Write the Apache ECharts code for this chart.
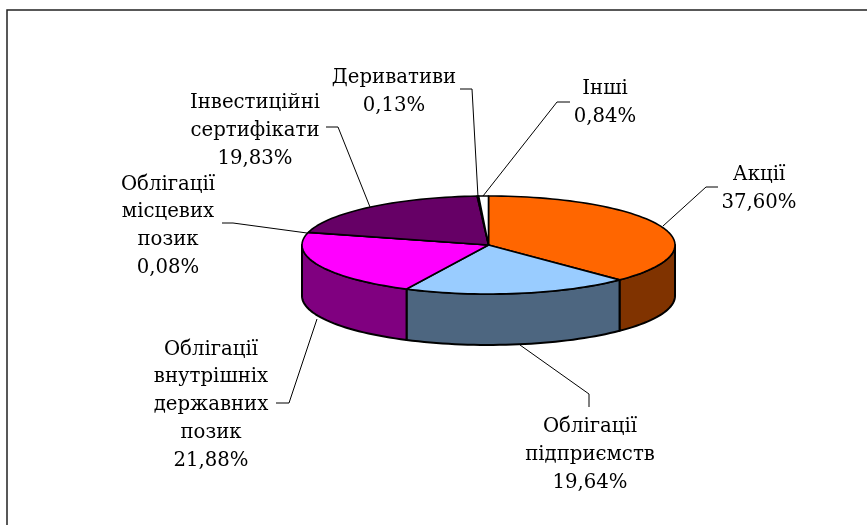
<!DOCTYPE html>
<html>
<head>
<meta charset="utf-8">
<style>
  html, body { margin: 0; padding: 0; background: #fff; }
  #chart { width: 867px; height: 525px; }
</style>
<script src="https://cdn.jsdelivr.net/npm/echarts@6/dist/echarts.min.js"></script>
</head>
<body>
<div id="chart"></div>
<script>
// values, clockwise from 12 o'clock
const names = ['Акції', 'Облігації\nпідприємств', 'Облігації\nвнутрішніх\nдержавних\nпозик', 'Облігації\nмісцевих\nпозик', 'Інвестиційні\nсертифікати', 'Деривативи', 'Інші']
const values = [37.60, 19.64, 21.88, 0.08, 19.83, 0.13, 0.84]
const topColors = ['#ff6600', '#99ccff', '#ff00ff', '#ffffff', '#660066', '#ffffff', '#ffffff']
const sideColors = ['#803300', '#4d6680', '#800080', '#808080', '#330033', '#808080', '#808080']

// label anchors and leader lines are annotation, not data
const labelAt = [[759, 189], [590, 455], [211, 405], [168, 226], [255, 131], [394, 92], [605, 103]]
const leaders = [
  [[663, 226], [706, 187], [718, 187]],
  [[520, 345], [589, 394], [589, 407]],
  [[317, 319], [289, 403], [276, 403]],
  [[307, 233], [233, 223], [222, 223]],
  [[370, 207], [338, 127], [326, 127]],
  [[478, 197], [472, 89], [460, 89]],
  [[483, 196], [557, 102], [570, 102]]
]

const depth = 1.04 // pie thickness in y axis units
const total = values.reduce((a, b) => a + b, 0)
const slices = []
let acc = 0
values.forEach((v, i) => {
  slices.push([i, acc / total * 360, (acc + v) / total * 360])
  acc += v
})

// unit circle point, 0 deg at top, clockwise
const pt = (deg) => [Math.sin(deg * Math.PI / 180), Math.cos(deg * Math.PI / 180)]

const arc = (from, to) => {
  const out = []
  const steps = Math.max(1, Math.ceil((to - from) / 2))
  for (let s = 0; s <= steps; s++) out.push(pt(from + (to - from) * s / steps))
  return out
}

const renderSide = (params, api) => {
  const i = api.value(0)
  const from = Math.max(api.value(1), 90)
  const to = Math.min(api.value(2), 270)
  if (to <= from) return null
  const upper = arc(from, to)
  const lower = upper.map(p => [p[0], p[1] - depth]).reverse()
  return {
    type: 'polygon',
    shape: { points: upper.concat(lower).map(p => api.coord(p)) },
    style: { fill: sideColors[i], stroke: '#000', lineWidth: 2, lineJoin: 'round' }
  }
}

const renderTop = (params, api) => {
  const i = api.value(0)
  const pts = [[0, 0]].concat(arc(api.value(1), api.value(2)))
  return {
    type: 'polygon',
    shape: { points: pts.map(p => api.coord(p)) },
    style: { fill: topColors[i], stroke: '#000', lineWidth: 1.6, lineJoin: 'round' }
  }
}

const renderLabel = (params, api) => {
  const i = api.value(0)
  const pct = values[i].toFixed(2).replace('.', ',') + '%'
  return {
    type: 'group',
    children: [
      {
        type: 'polyline',
        shape: { points: leaders[i] },
        style: { fill: null, stroke: '#000', lineWidth: 1 }
      },
      {
        type: 'text',
        x: labelAt[i][0],
        y: labelAt[i][1],
        style: {
          text: names[i] + '\n' + pct,
          fill: '#000',
          font: '19.7px "DejaVu Serif"',
          lineHeight: 27.7,
          align: 'center',
          verticalAlign: 'middle'
        }
      }
    ]
  }
}

const chart = echarts.init(document.getElementById('chart'), null, { renderer: 'canvas' })
chart.setOption({
  animation: false,
  backgroundColor: '#fff',
  grid: { left: 302, top: 196, width: 373, height: 98 },
  xAxis: { type: 'value', min: -1, max: 1, show: false },
  yAxis: { type: 'value', min: -1, max: 1, show: false },
  graphic: [{
    type: 'polyline',
    shape: { points: [[7, 525], [7, 10], [867, 10]] },
    style: { fill: null, stroke: '#222', lineWidth: 1.5 },
    silent: true
  }],
  series: [
    { type: 'custom', clip: false, data: slices, renderItem: renderSide, encode: { x: 1, y: 2 }, z: 2 },
    { type: 'custom', clip: false, data: slices, renderItem: renderTop, encode: { x: 1, y: 2 }, z: 3 },
    { type: 'custom', clip: false, data: slices, renderItem: renderLabel, encode: { x: 1, y: 2 }, z: 4 }
  ]
})
window.addEventListener('resize', () => chart.resize())
</script>
</body>
</html>
